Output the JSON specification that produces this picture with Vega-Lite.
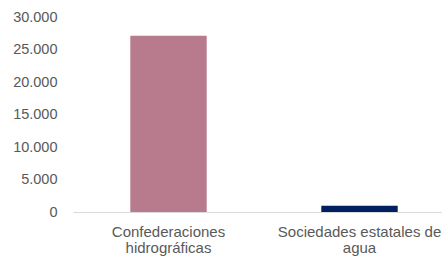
{
  "$schema": "https://vega.github.io/schema/vega-lite/v6.json",
  "autosize": "none",
  "width": 382,
  "height": 195,
  "padding": {"left": 73, "top": 17, "right": 0, "bottom": 45},
  "config": {
    "view": {"stroke": null},
    "locale": {"number": {"decimal": ",", "thousands": ".", "grouping": [3], "currency": ["", " €"]}},
    "font": "Liberation Sans"
  },
  "data": {
    "values": [
      {"entidad": "Confederaciones hidrográficas", "valor": 27100},
      {"entidad": "Sociedades estatales de agua", "valor": 950}
    ]
  },
  "mark": {"type": "bar"},
  "encoding": {
    "x": {
      "field": "entidad",
      "type": "nominal",
      "sort": null,
      "scale": {"paddingInner": 0.6, "paddingOuter": 0.3},
      "axis": {
        "title": null,
        "labelAngle": 0,
        "ticks": false,
        "domainColor": "#d9d9d9",
        "labelColor": "#595959",
        "labelFontSize": 15,
        "labelPadding": 12,
        "labelLineHeight": 16,
        "labelLimit": 0,
        "labelExpr": "indexof(datum.label, 'hidro') >= 0 ? ['Confederaciones', 'hidrográficas'] : ['Sociedades estatales de', 'agua']"
      }
    },
    "y": {
      "field": "valor",
      "type": "quantitative",
      "scale": {"domain": [0, 30000]},
      "axis": {
        "title": null,
        "values": [0, 5000, 10000, 15000, 20000, 25000, 30000],
        "format": ",.0f",
        "grid": false,
        "domain": false,
        "ticks": false,
        "labelColor": "#595959",
        "labelFontSize": 14.5,
        "labelPadding": 16
      }
    },
    "color": {
      "field": "entidad",
      "type": "nominal",
      "scale": {"range": ["#b77b8d", "#002060"]},
      "legend": null
    }
  }
}
